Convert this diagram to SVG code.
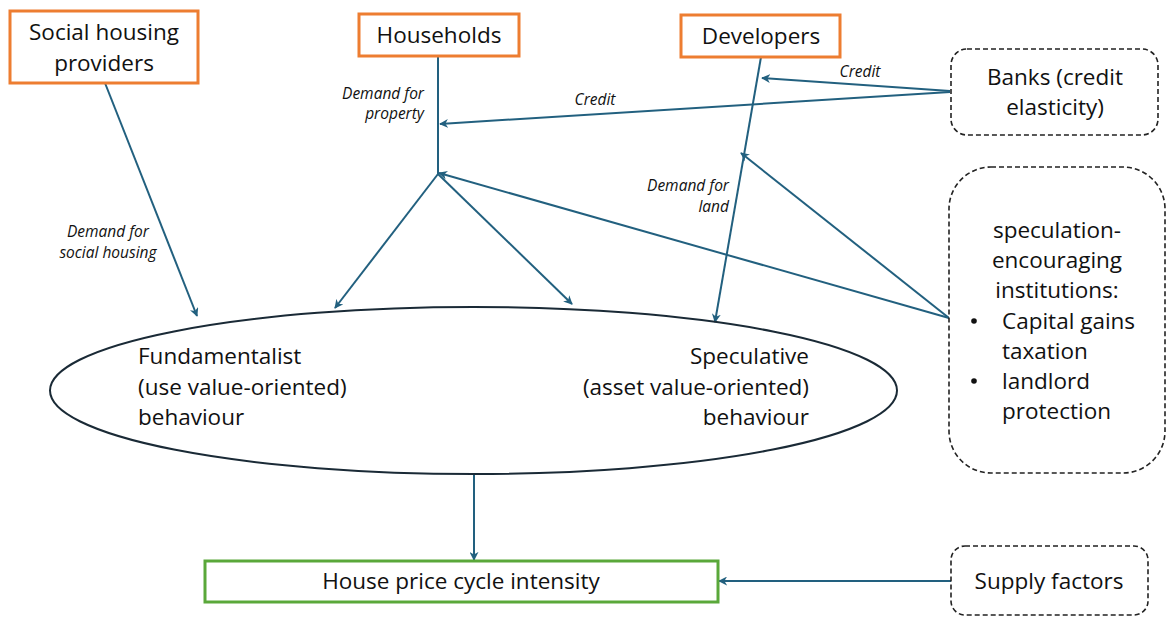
<svg xmlns="http://www.w3.org/2000/svg" width="1167" height="617" viewBox="0 0 1167 617">
<defs>
<marker id="ah" viewBox="0 0 10 10" refX="9" refY="5" markerWidth="9" markerHeight="9" markerUnits="userSpaceOnUse" orient="auto">
<path d="M0,0 L10,5 L0,10 L3,5 Z" fill="#22607f"/>
</marker>
</defs>
<style>
.conn{stroke:#22607f;stroke-width:2;fill:none}
.orange{fill:#fff;stroke:#ed7d31;stroke-width:3}
.green{fill:#fff;stroke:#5aa83a;stroke-width:3}
.dash{fill:#fff;stroke:#222;stroke-width:1.6;stroke-dasharray:5,3}
.t{font-family:"Open Sans","Liberation Sans",sans-serif;font-size:22.5px;fill:#111}
.lbl{font-family:"Open Sans","Liberation Sans",sans-serif;font-size:15.5px;font-style:italic;fill:#111}
</style>
<rect width="1167" height="617" fill="#fff"/>
<g id="connectors">
<line class="conn" x1="105" y1="83" x2="197" y2="316" marker-end="url(#ah)"/>
<line class="conn" x1="438" y1="56" x2="438" y2="174"/>
<line class="conn" x1="438" y1="174" x2="335" y2="308" marker-end="url(#ah)"/>
<line class="conn" x1="438" y1="174" x2="572" y2="304" marker-end="url(#ah)"/>
<line class="conn" x1="761" y1="57" x2="715" y2="322" marker-end="url(#ah)"/>
<line class="conn" x1="950" y1="91" x2="762" y2="78" marker-end="url(#ah)"/>
<line class="conn" x1="950" y1="92" x2="440" y2="124" marker-end="url(#ah)"/>
<line class="conn" x1="949" y1="318" x2="439" y2="173" marker-end="url(#ah)"/>
<line class="conn" x1="949" y1="318" x2="741" y2="153" marker-end="url(#ah)"/>
<line class="conn" x1="474" y1="474" x2="474" y2="560" marker-end="url(#ah)"/>
<line class="conn" x1="951" y1="581" x2="719" y2="581" marker-end="url(#ah)"/>
<text class="lbl" x="108" y="237" text-anchor="middle">Demand for</text>
<text class="lbl" x="108" y="258" text-anchor="middle">social housing</text>
<text class="lbl" x="424" y="99" text-anchor="end">Demand for</text>
<text class="lbl" x="424" y="119" text-anchor="end">property</text>
<text class="lbl" x="729" y="191" text-anchor="end">Demand for</text>
<text class="lbl" x="729" y="212" text-anchor="end">land</text>
<text class="lbl" x="860" y="77" text-anchor="middle">Credit</text>
<text class="lbl" x="595" y="105" text-anchor="middle">Credit</text>
</g>
<g id="social">
<rect class="orange" x="10" y="11" width="188" height="72"/>
<text class="t" x="104" y="40" text-anchor="middle">Social housing</text>
<text class="t" x="104" y="71" text-anchor="middle">providers</text>
</g>
<g id="households">
<rect class="orange" x="359" y="14" width="160" height="42"/>
<text class="t" x="439" y="43" text-anchor="middle">Households</text>
</g>
<g id="developers">
<rect class="orange" x="681" y="15" width="159" height="42"/>
<text class="t" x="761" y="44" text-anchor="middle">Developers</text>
</g>
<g id="banks">
<rect class="dash" x="951" y="49" width="207" height="86" rx="16"/>
<text class="t" x="1055" y="85" text-anchor="middle">Banks (credit</text>
<text class="t" x="1055" y="115" text-anchor="middle">elasticity)</text>
</g>
<g id="institutions">
<rect class="dash" x="949" y="167" width="216" height="306" rx="42"/>
<text class="t" x="1057" y="238" text-anchor="middle">speculation-</text>
<text class="t" x="1057" y="268" text-anchor="middle">encouraging</text>
<text class="t" x="1057" y="298" text-anchor="middle">institutions:</text>
<circle cx="974" cy="321" r="2.8" fill="#111"/>
<text class="t" x="1002" y="329">Capital gains</text>
<text class="t" x="1002" y="359">taxation</text>
<circle cx="974" cy="381" r="2.8" fill="#111"/>
<text class="t" x="1002" y="389">landlord</text>
<text class="t" x="1002" y="419">protection</text>
</g>
<g id="behaviour">
<ellipse cx="473.5" cy="390.5" rx="423.5" ry="83.5" fill="none" stroke="#1a2a36" stroke-width="2"/>
<text class="t" x="138" y="364">Fundamentalist</text>
<text class="t" x="138" y="395">(use value-oriented)</text>
<text class="t" x="138" y="425">behaviour</text>
<text class="t" x="809" y="364" text-anchor="end">Speculative</text>
<text class="t" x="809" y="395" text-anchor="end">(asset value-oriented)</text>
<text class="t" x="809" y="425" text-anchor="end">behaviour</text>
</g>
<g id="price">
<rect class="green" x="205" y="561" width="513" height="41"/>
<text class="t" x="461" y="589" text-anchor="middle">House price cycle intensity</text>
</g>
<g id="supply">
<rect class="dash" x="951" y="546" width="197" height="69" rx="14"/>
<text class="t" x="1049" y="589" text-anchor="middle">Supply factors</text>
</g>
</svg>
